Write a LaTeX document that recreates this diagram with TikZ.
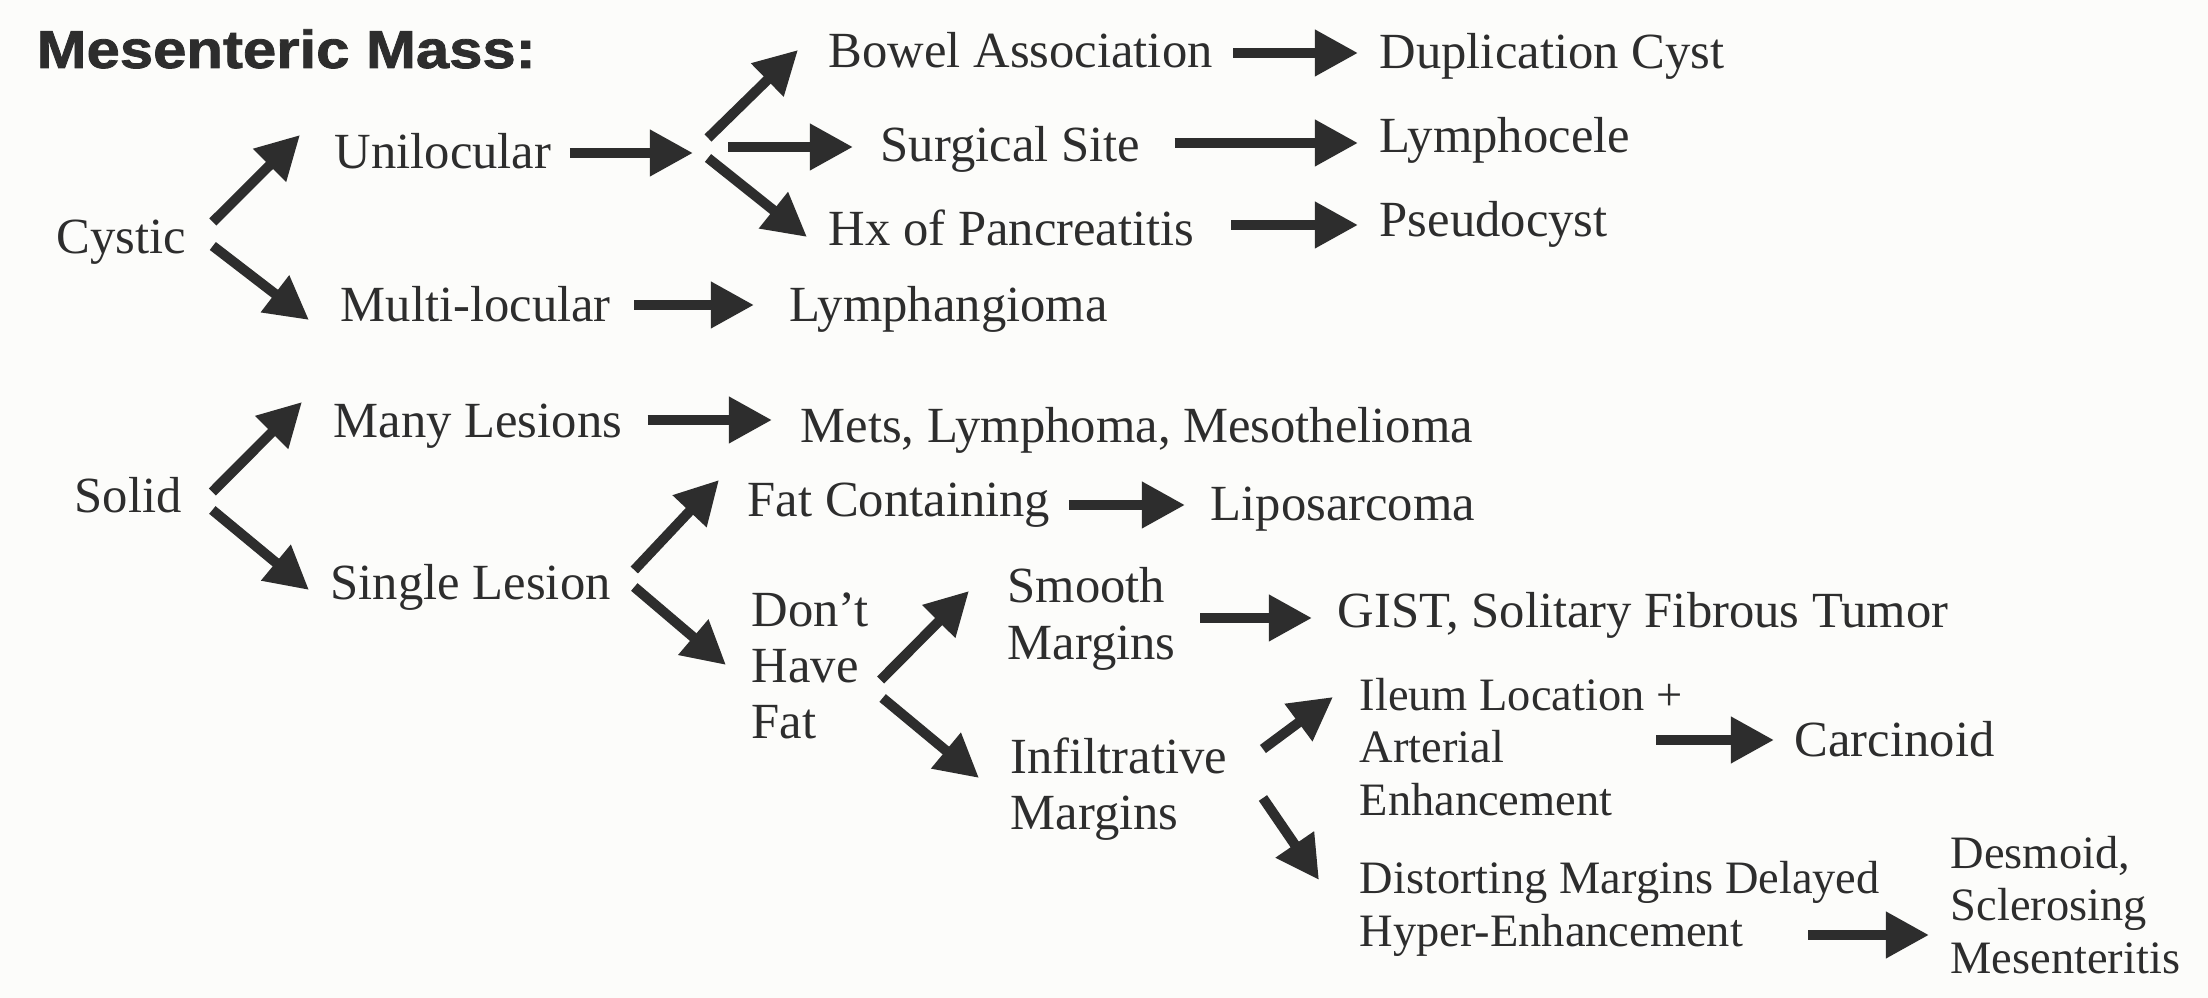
\documentclass[tikz,border=0pt]{standalone}
\usepackage{fontspec}
\setmainfont{Liberation Serif}
\newfontfamily\titlefont{Liberation Sans}[FakeStretch=1.12, FakeBold=1.5]
\usetikzlibrary{arrows.meta}
\definecolor{ink}{RGB}{45,45,45}
\definecolor{paper}{RGB}{252,252,250}

\begin{document}
\begin{tikzpicture}[x=0.01cm, y=-0.01cm,
		lbl/.style={inner sep=0pt, text=ink, align=left, font=\fontsize{14.4}{16}\selectfont},
		sml/.style={lbl, font=\fontsize{13.2}{14.9}\selectfont},
		arr/.style={draw=ink, line width=0.1cm, -{Triangle[length=0.43cm, width=0.44cm]}}]
		\fill[paper] (0,0) rectangle (2208,998);
		\useasboundingbox (0,0) rectangle (2208,998);
		\node[inner sep=0pt, text=ink, anchor=base west, font=\titlefont\bfseries\fontsize{15.2}{18}\selectfont] (title) at (36,68) {Mesenteric Mass:};
		% cystic branch
		\node[lbl, anchor=base west] (cystic) at (56,254) {Cystic};
		\node[lbl, anchor=base west] (uni) at (334,169) {Unilocular};
		\node[lbl, anchor=base west] (multi) at (340,322) {Multi-locular};
		\coordinate (split) at (700,150);
		\node[lbl, anchor=base west] (bowel) at (828,68) {Bowel Association};
		\node[lbl, anchor=base west] (surg) at (880,162) {Surgical Site};
		\node[lbl, anchor=base west] (hx) at (828,246) {Hx of Pancreatitis};
		\node[lbl, anchor=base west] (dup) at (1379,69) {Duplication Cyst};
		\node[lbl, anchor=base west] (lympho) at (1379,153) {Lymphocele};
		\node[lbl, anchor=base west] (pseudo) at (1379,237) {Pseudocyst};
		\node[lbl, anchor=base west] (lymphang) at (789,322) {Lymphangioma};
		% solid branch
		\node[lbl, anchor=base west] (solid) at (74,513) {Solid};
		\node[lbl, anchor=base west] (many) at (333,438) {Many Lesions};
		\node[lbl, anchor=base west] (mets) at (800,443) {Mets, Lymphoma, Mesothelioma};
		\node[lbl, anchor=base west] (single) at (330,600) {Single Lesion};
		\node[lbl, anchor=base west] (fat) at (747,517) {Fat Containing};
		\node[lbl, anchor=base west] (lipo) at (1210,521) {Liposarcoma};
		\node[lbl, anchor=west] (dont) at (751,666) {Don't\\Have\\Fat};
		\node[lbl, anchor=west] (smooth) at (1007,619) {Smooth\\Margins};
		\node[lbl, anchor=base west] (gist) at (1337,628) {GIST, Solitary Fibrous Tumor};
		\node[lbl, anchor=west] (infil) at (1010,789) {Infiltrative\\Margins};
		\node[sml, anchor=west] (ileum) at (1359,747) {Ileum Location +\\Arterial\\Enhancement};
		\node[lbl, anchor=base west] (carc) at (1794,757) {Carcinoid};
		\node[sml, anchor=west] (distort) at (1359,909) {Distorting Margins Delayed\\Hyper-Enhancement};
		\node[sml, anchor=west] (desmoid) at (1950,905) {Desmoid,\\Sclerosing\\Mesenteritis};

		\draw[arr] ([shift={(26,-32)}]cystic.base east) -- ([shift={(-34,-34)}]uni.base west);
		\draw[arr] ([shift={(26,-8)}]cystic.base east) -- ([shift={(-31,-2)}]multi.base west);
		\draw[arr] ([shift={(18,-16)}]uni.base east) -- ([shift={(-7,3)}]split);
		\draw[arr] ([shift={(8,-12)}]split) -- ([shift={(-30,-18)}]bowel.base west);
		\draw[arr] ([shift={(28,-3)}]split) -- ([shift={(-27,-15)}]surg.base west);
		\draw[arr] ([shift={(8,8)}]split) -- ([shift={(-21,-9)}]hx.base west);
		\draw[arr] ([shift={(20,-15)}]bowel.base east) -- ([shift={(-21,-16)}]dup.base west);
		\draw[arr] ([shift={(34,-19)}]surg.base east) -- ([shift={(-21,-10)}]lympho.base west);
		\draw[arr] ([shift={(36,-21)}]hx.base east) -- ([shift={(-21,-12)}]pseudo.base west);
		\draw[arr] ([shift={(23,-17)}]multi.base east) -- ([shift={(-35,-17)}]lymphang.base west);

		\draw[arr] ([shift={(30,-21)}]solid.base east) -- ([shift={(-31,-36)}]many.base west);
		\draw[arr] ([shift={(30,-3)}]solid.base east) -- ([shift={(-21,-10)}]single.base west);
		\draw[arr] ([shift={(25,-18)}]many.base east) -- ([shift={(-28,-23)}]mets.base west);
		\draw[arr] ([shift={(23,-30)}]single.base east) -- ([shift={(-28,-37)}]fat.base west);
		\draw[arr] ([shift={(23,-13)}]single.base east) -- ([shift={(-25,-1)}]dont.west);
		\draw[arr] ([shift={(18,-12)}]fat.base east) -- ([shift={(-25,-16)}]lipo.base west);
		\draw[arr] ([shift={(11,14)}]dont.east) -- ([shift={(-38,-28)}]smooth.west);
		\draw[arr] ([shift={(13,32)}]dont.east) -- ([shift={(-31,-11)}]infil.west);
		\draw[arr] ([shift={(24,-1)}]smooth.east) -- ([shift={(-25,-10)}]gist.base west);
		\draw[arr] ([shift={(35,-40)}]infil.east) -- ([shift={(-26,-50)}]ileum.west);
		\draw[arr] ([shift={(35,9)}]infil.east) -- ([shift={(-40,-29)}]distort.west);
		\draw[arr] ([shift={(-27,-7)}]ileum.east) -- ([shift={(-20,-17)}]carc.base west);
		\draw[arr] ([shift={(-72,26)}]distort.east) -- ([shift={(-21,30)}]desmoid.west);
	\end{tikzpicture}
\end{document}
